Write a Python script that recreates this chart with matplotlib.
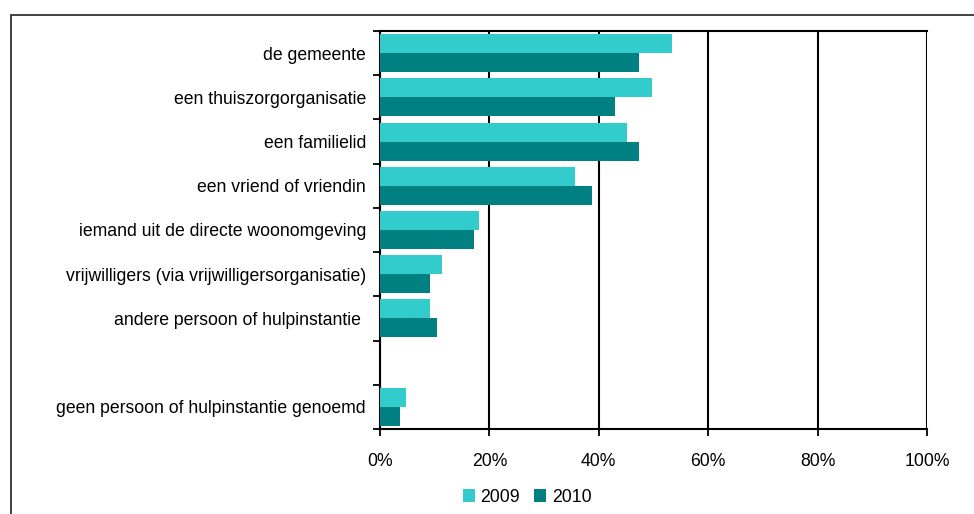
import numpy as np
import matplotlib
matplotlib.use("Agg")
import matplotlib.pyplot as plt
from matplotlib.patches import Rectangle

# data
categories = ["de gemeente",
              "een thuiszorgorganisatie",
              "een familielid",
              "een vriend of vriendin",
              "iemand uit de directe woonomgeving",
              "vrijwilligers (via vrijwilligersorganisatie)",
              "andere persoon of hulpinstantie ",
              "",
              "geen persoon of hulpinstantie genoemd"]
values_2009 = [53.4, 49.7, 45.2, 35.6, 18.1, 11.3, 9.1, np.nan, 4.8]
values_2010 = [47.3, 43.0, 47.3, 38.8, 17.2, 9.1, 10.4, np.nan, 3.7]
series_labels = ["2009", "2010"]
x_ticks = [0, 20, 40, 60, 80, 100]

plt.rcParams['font.family'] = ['Liberation Sans', 'DejaVu Sans']
fs = 12.7

fig = plt.figure(figsize=(9.74, 5.14), dpi=100)
ax = fig.add_axes([380/974, 1 - 429/514, 547/974, 398/514])

# outer frame of the chart (cut off at right and bottom)
fig.patches.append(Rectangle((11/974, -0.1), 1.2, 1 - 14.5/514 + 0.1,
                             transform=fig.transFigure, fill=False,
                             edgecolor='#333333', linewidth=1.3))

y = np.arange(len(categories))
h = 0.43
ax.barh(y - h/2, values_2009, height=h, color='#33CCCC', label=series_labels[0], zorder=3)
ax.barh(y + h/2, values_2010, height=h, color='#008080', label=series_labels[1], zorder=3)

ax.set_xlim(0, 100)
ax.set_ylim(len(categories) - 0.5, -0.5)

ax.set_xticks(x_ticks)
ax.set_xticklabels([f"{t}%" for t in x_ticks], fontsize=fs)
ax.xaxis.grid(True, color='black', linewidth=1.5, zorder=1)

# tick marks between categories, labels at centres
ax.set_yticks(np.arange(-0.5, len(categories), 1))
ax.set_yticklabels([])
ax.set_yticks(y, minor=True)
ax.set_yticklabels(categories, minor=True, fontsize=fs)
ax.tick_params(axis='y', which='minor', length=0, pad=10)
ax.tick_params(axis='y', which='major', length=5, width=1.3, direction='out')
ax.tick_params(axis='x', length=5, width=1.3, direction='out', pad=12)

for s in ax.spines.values():
    s.set_linewidth(1.5)
    s.set_color('black')
ax.spines['right'].set_visible(False)

ax.legend(loc='center', bbox_to_anchor=(527/974, 1 - 497/514),
          bbox_transform=fig.transFigure, ncol=2, frameon=False,
          fontsize=fs, handlelength=0.7, handleheight=0.7,
          handletextpad=0.3, columnspacing=0.8)

fig.savefig("out.png", dpi=100)
